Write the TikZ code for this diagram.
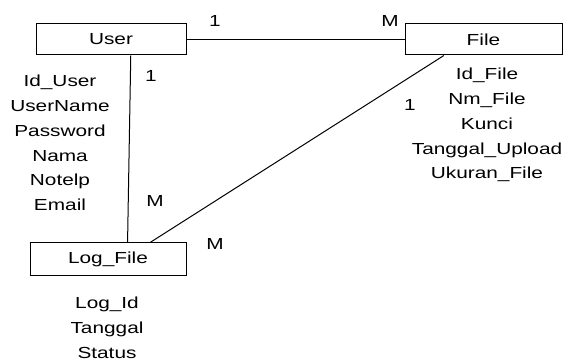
\documentclass[tikz,border=0pt]{standalone}
\usepackage{fontspec}
\setmainfont[FakeStretch=1.3]{Liberation Sans}
\begin{document}
\begin{tikzpicture}[x=0.75pt,y=-0.75pt,line width=0.75pt,
    font=\fontsize{12}{18.6}\selectfont,
    entity/.style={draw,inner sep=0pt,minimum height=23.25pt},
    attr/.style={align=center,inner sep=0pt},
    card/.style={inner sep=0pt}]
  \useasboundingbox (0,0) rectangle (564,363);
  \draw
    (111,39.5) node[entity,minimum width=112.5pt] (user){User}
    (483.5,39.5) node[entity,minimum width=117.75pt] (file){File}
    (108,259.5) node[entity,minimum width=117pt,minimum height=24.75pt] (log){Log\_File};
  \draw
    (60,143) node[attr] (userattr){Id\_User\\UserName\\Password\\Nama\\Notelp\\Email}
    (487,125) node[attr] (fileattr){Id\_File\\Nm\_File\\Kunci\\Tanggal\_Upload\\Ukuran\_File}
    (107,328) node[attr] (logattr){Log\_Id\\Tanggal\\Status};
  \draw
    (215,21) node[card] (c1){1}
    (390,21) node[card] (c2){M}
    (151,76) node[card] (c3){1}
    (155,201) node[card] (c4){M}
    (215,243.5) node[card] (c5){M}
    (410,105) node[card] (c6){1};
  \begin{scope}[-]
    \draw (user.east) to (file.west);
    \draw (user.-39.2) to (log.41);
    \draw (file.-158.6) to (log.22.9);
  \end{scope}
\end{tikzpicture}
\end{document}
